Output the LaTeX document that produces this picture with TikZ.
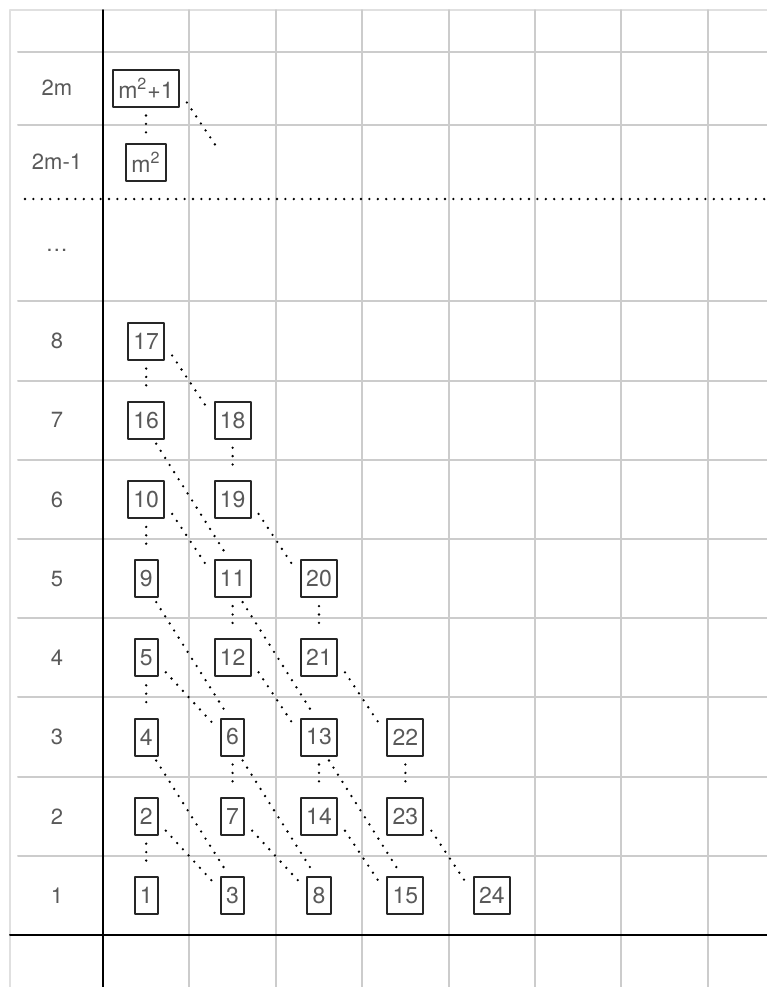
\documentclass[tikz,border=0pt]{standalone}
\usepackage{fontspec}
\setmainfont{TeX Gyre Heros}
\usetikzlibrary{positioning}

\begin{document}
\begin{tikzpicture}[x=0.5pt, y=-0.5pt, line join=round, line cap=round,
    numbox/.style={draw=black!85, line width=1pt, text=black!65, inner xsep=2.6pt, inner ysep=0pt,
      minimum height=18.5pt, font=\fontsize{11.5}{13}\selectfont},
    rowlabel/.style={text=black!65, font=\fontsize{11}{13}\selectfont},
    gridline/.style={draw=black!20, line width=1pt},
    dotline/.style={line width=1.3pt, dash pattern=on 0pt off 4.2pt, line cap=round}]

    \useasboundingbox (0,0) rectangle (767,987);

    % Outer frame
    \draw[black!12, line width=0.6pt] (10,987) -- (10,10) -- (767,10);

    % Grid columns
    \foreach \c in {1,...,7}
      \draw[gridline] ({103+86.4*\c},10) -- ({103+86.4*\c},987);

    % Grid rows
    \draw[gridline] (18,52) -- (767,52);
    \draw[gridline] (18,125) -- (767,125);
    \foreach \r in {1,...,8}
      \draw[gridline] (18,{935-79.2*\r}) -- (767,{935-79.2*\r});

    % Axes
    \draw[black, line width=1pt] (103,10) -- (103,987);
    \draw[black, line width=1pt] (10,935) -- (767,935);

    % Dotted cut
    \draw[dotline] (25,199) -- (767,199);

    % Row labels
    \foreach \r in {1,...,8}
      \node[rowlabel] (row\r) at (57,{935-79.2*(\r-0.5)}) {\r};
    \node[rowlabel] (rowdots) at (57,250) {\dots};
    \node[rowlabel] (row2m1) at (57,162) {2m-1};
    \node[rowlabel] (row2m) at (57,88) {2m};

    % Number boxes
    \foreach \n/\c/\r in {1/1/1, 2/1/2, 4/1/3, 5/1/4, 9/1/5, 10/1/6, 16/1/7, 17/1/8,
                          3/2/1, 7/2/2, 6/2/3, 12/2/4, 11/2/5, 19/2/6, 18/2/7,
                          8/3/1, 14/3/2, 13/3/3, 21/3/4, 20/3/5,
                          15/4/1, 23/4/2, 22/4/3,
                          24/5/1}
      \node[numbox] (n\n) at ({103+86.4*(\c-0.5)},{935-79.2*(\r-0.5)}) {\n};

    \node[numbox] (nm) at (146,162) {m\textsuperscript{2}};
    \node[numbox] (nmp) at (146,88) {m\textsuperscript{2}+1};
    \coordinate (mnext) at (218,149);

    % Vertical links
    \foreach \a/\b in {nmp/nm, n17/n16, n10/n9, n5/n4, n2/n1, n18/n19, n11/n12, n6/n7,
                       n20/n21, n13/n14, n22/n23}
      \draw[dotline, shorten <=4pt, shorten >=4pt] (\a.south) -- (\b.north);

    % Short diagonals
    \foreach \a/\b in {n17/n18, n19/n20, n10/n11, n21/n22, n12/n13, n5/n6, n23/n24,
                       n14/n15, n7/n8, n2/n3}
      \draw[dotline] ([shift={(3.5pt,2.5pt)}]\a.south east) -- ([shift={(-4pt,-2.5pt)}]\b.north west);
    \draw[dotline] ([shift={(3.5pt,2.5pt)}]nmp.south east) -- (mnext);

    % Long diagonals
    \foreach \a/\b in {n16/n11, n9/n6, n4/n3, n11/n13, n6/n8, n13/n15}
      \draw[dotline] ([shift={(5pt,-2pt)}]\a.south) -- ([shift={(-3pt,2pt)}]\b.north);
\end{tikzpicture}
\end{document}
